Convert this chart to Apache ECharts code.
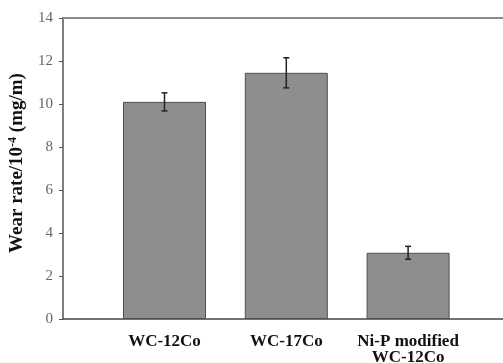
<!DOCTYPE html>
<html><head><meta charset="utf-8">
<script src="https://cdn.jsdelivr.net/npm/echarts@6/dist/echarts.min.js"></script>
<style>html,body{margin:0;padding:0;background:#fff}#c{width:503px;height:363px}</style>
</head><body><div id="c"></div>
<script>
var categories = ['WC-12Co', 'WC-17Co', 'Ni-P modified\nWC-12Co'];
var wearRate = [10.1, 11.45, 3.08];
var wearError = [0.42, 0.7, 0.3];
var yTicks = [0, 2, 4, 6, 8, 10, 12, 14];

var chart = echarts.init(document.getElementById('c'));
var serif = '"Liberation Serif","Times New Roman",serif';
var errData = categories.map(function (c, i) { return [i, wearRate[i] - wearError[i], wearRate[i] + wearError[i]]; });

chart.setOption({
  animation: false,
  backgroundColor: '#fff',
  grid: [
    { left: 63, right: -5, top: 18, bottom: 44, outerBoundsMode: 'none', containLabel: false },
    { left: 103.6, right: 34, top: 18, bottom: 44, outerBoundsMode: 'none', containLabel: false }
  ],
  xAxis: [
    { gridIndex: 0, type: 'value', min: 0, max: 1, position: 'bottom',
      axisLine: { show: true, lineStyle: { color: '#444', width: 1.5 } },
      axisTick: { show: false }, axisLabel: { show: false }, splitLine: { show: false } },
    { gridIndex: 0, type: 'value', min: 0, max: 1, position: 'top',
      axisLine: { show: true, onZero: false, lineStyle: { color: '#8a8a8a', width: 2 } },
      axisTick: { show: false }, axisLabel: { show: false }, splitLine: { show: false } },
    { gridIndex: 1, type: 'category', data: categories, boundaryGap: true,
      axisLine: { show: false }, axisTick: { show: false },
      axisLabel: { color: '#111', fontFamily: serif, fontWeight: 'bold', fontSize: 17, lineHeight: 16, margin: 15, interval: 0 } }
  ],
  yAxis: [
    { gridIndex: 0, type: 'value', min: 0, max: 14, interval: 2,
      axisLine: { show: true, lineStyle: { color: '#555', width: 1.5 } },
      axisTick: { show: true, inside: false, length: 4, lineStyle: { color: '#555' } },
      axisLabel: { color: '#666', fontFamily: serif, fontSize: 15, margin: 10,
        formatter: function (v) { return yTicks.indexOf(v) >= 0 ? String(v) : ''; } },
      splitLine: { show: false } },
    { gridIndex: 1, type: 'value', min: 0, max: 14, interval: 2, show: false }
  ],
  series: [
    { type: 'bar', xAxisIndex: 2, yAxisIndex: 1, data: wearRate, barWidth: 83,
      itemStyle: { color: '#8e8e8e', borderColor: '#505050', borderWidth: 1 } },
    { type: 'custom', xAxisIndex: 2, yAxisIndex: 1, data: errData, z: 10,
      renderItem: function (params, api) {
        var x = api.coord([api.value(0), 0])[0];
        var lo = api.coord([api.value(0), api.value(1)])[1];
        var hi = api.coord([api.value(0), api.value(2)])[1];
        var w = 3;
        var st = { stroke: '#222', lineWidth: 1.5 };
        return { type: 'group', children: [
          { type: 'line', shape: { x1: x, y1: lo, x2: x, y2: hi }, style: st },
          { type: 'line', shape: { x1: x - w, y1: hi, x2: x + w, y2: hi }, style: st },
          { type: 'line', shape: { x1: x - w, y1: lo, x2: x + w, y2: lo }, style: st }
        ] };
      } }
  ],
  graphic: [
    { type: 'text', x: 17, y: 163, rotation: Math.PI / 2,
      style: { text: '{a|Wear rate/10}{s|-4}{a| (mg/m)}', align: 'center', verticalAlign: 'middle',
        rich: {
          a: { fontFamily: serif, fontWeight: 'bold', fontSize: 19, fill: '#111' },
          s: { fontFamily: serif, fontWeight: 'bold', fontSize: 12, fill: '#111', verticalAlign: 'top', padding: [0, 0, 9, 0] }
        } } }
  ]
});
</script></body></html>
